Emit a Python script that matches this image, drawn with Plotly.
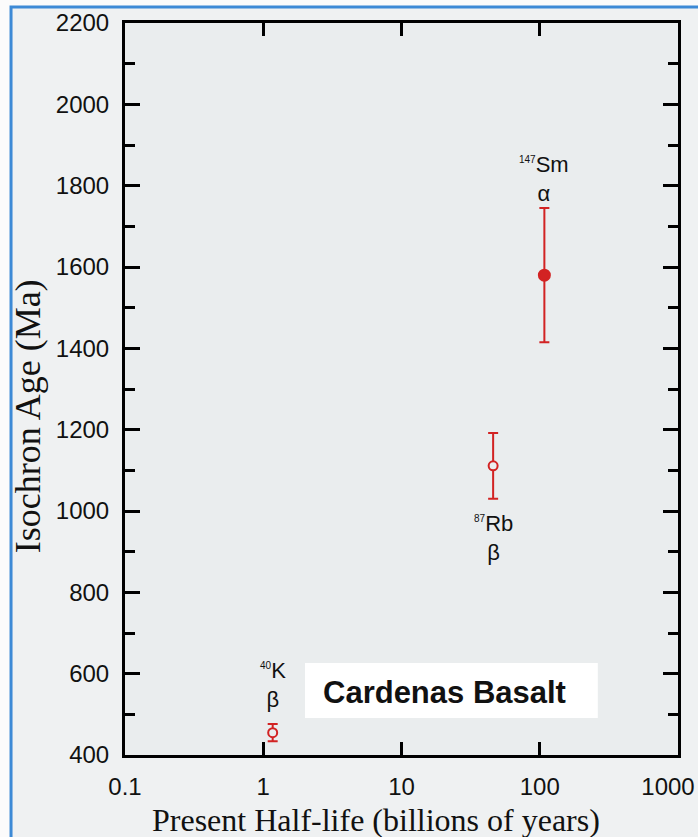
import numpy as np
import plotly.graph_objects as go

# ---- data ----
isotopes = ["40K", "87Rb", "147Sm"]
mass_numbers = ["40", "87", "147"]
elements = ["K", "Rb", "Sm"]
decay_modes = ["β", "β", "α"]
half_life_gyr = [1.17, 46.0, 108.0]
isochron_age_ma = [455, 1111, 1580]
age_error_ma = [21, 81, 165]
filled = [False, False, True]
label_above = [True, False, True]
label_shift = [10, -10, 0]

x_tick_vals = [0.1, 1, 10, 100, 1000]
x_tick_text = ["0.1", "1", "10", "100",
               "1000<span style='color:rgba(0,0,0,0)'>0.</span>"]
y_tick_vals = [400, 600, 800, 1000, 1200, 1400, 1600, 1800, 2000, 2200]
y_tick_text = [str(v) for v in y_tick_vals]

RED = "#d22323"
PLOT_BG = "#eaedee"
PAGE_BG = "#eff1f2"
TXT = "#111111"

fig = go.Figure()

for i in range(len(isotopes)):
    fig.add_trace(go.Scatter(
        x=[half_life_gyr[i]], y=[isochron_age_ma[i]],
        mode="markers",
        marker=dict(
            symbol="circle",
            size=11 if filled[i] else 9,
            color=RED if filled[i] else PLOT_BG,
            line=dict(color=RED, width=2),
        ),
        error_y=dict(type="data", array=[age_error_ma[i]], color=RED,
                     thickness=2, width=5),
        showlegend=False, name=isotopes[i],
    ))
    txt = (f"<sup><span style='font-size:10px'>{mass_numbers[i]}</span></sup>"
           f"{elements[i]}<br>{decay_modes[i]}")
    if label_above[i]:
        y_ref = isochron_age_ma[i] + age_error_ma[i]
        yanchor = "bottom"
    else:
        y_ref = isochron_age_ma[i] - age_error_ma[i]
        yanchor = "top"
    fig.add_annotation(x=np.log10(half_life_gyr[i]), y=y_ref,
                       xref="x", yref="y", text=txt, showarrow=False,
                       xanchor="center", yanchor=yanchor, yshift=label_shift[i],
                       font=dict(family="Arial", size=22, color=TXT))

# background frame (window-like) and plot area
fig.add_shape(type="rect", xref="paper", yref="paper",
              x0=-0.2061, x1=1.10, y0=-0.15, y1=1.0219,
              line=dict(color="#3d8ad6", width=3), fillcolor=PAGE_BG, layer="below")
fig.add_shape(type="rect", xref="paper", yref="paper",
              x0=0, x1=1, y0=0, y1=1,
              line=dict(width=0), fillcolor=PLOT_BG, layer="below")

# label box
fig.add_shape(type="rect", xref="paper", yref="paper",
              x0=0.3255, x1=0.855, y0=0.0505, y1=0.1257,
              line=dict(width=0), fillcolor="white", layer="above")
fig.add_annotation(x=0.577, y=0.086, xref="paper", yref="paper",
                   text="<b>Cardenas Basalt</b>", showarrow=False,
                   xanchor="center", yanchor="middle",
                   font=dict(family="Arial", size=31, color=TXT))

# axis titles
fig.add_annotation(x=-0.175, y=0.463, xref="paper", yref="paper",
                   text="Isochron Age (Ma)", textangle=-90, showarrow=False,
                   xanchor="center", yanchor="middle",
                   font=dict(family="Liberation Serif", size=36, color=TXT))
fig.add_annotation(x=0.454, y=-0.089, xref="paper", yref="paper",
                   text="Present Half-life (billions of years)", showarrow=False,
                   xanchor="center", yanchor="middle",
                   font=dict(family="Liberation Serif", size=32, color=TXT))

fig.update_xaxes(
    type="log", range=[-1, 3],
    tickvals=x_tick_vals, ticktext=x_tick_text,
    ticks="inside", ticklen=13, tickwidth=3, tickcolor="black",
    showline=True, linewidth=3, linecolor="black", mirror="ticks",
    showgrid=False, zeroline=False, automargin=False,
    tickfont=dict(family="Arial", size=24, color=TXT),
    ticklabelstandoff=8, ticklabeloverflow="allow",
)
fig.update_yaxes(
    range=[400, 2200],
    tickvals=y_tick_vals, ticktext=y_tick_text,
    ticks="inside", ticklen=15, tickwidth=3, tickcolor="black",
    minor=dict(dtick=100, tick0=400, ticks="inside", ticklen=10, tickwidth=3,
               tickcolor="black", showgrid=False),
    showline=True, linewidth=3, linecolor="black", mirror="ticks",
    showgrid=False, zeroline=False, automargin=False,
    tickfont=dict(family="Arial", size=24, color=TXT),
    ticklabelstandoff=8, ticklabeloverflow="allow",
)

fig.update_layout(
    width=698, height=837,
    margin=dict(l=125, r=20, t=23, b=82),
    paper_bgcolor="#fbfbfb", plot_bgcolor=PLOT_BG,
)

fig.write_html(
    "out.html",
    config={"displayModeBar": False},
    post_script="document.body.style.margin='0px';document.body.style.overflow='hidden';",
)
